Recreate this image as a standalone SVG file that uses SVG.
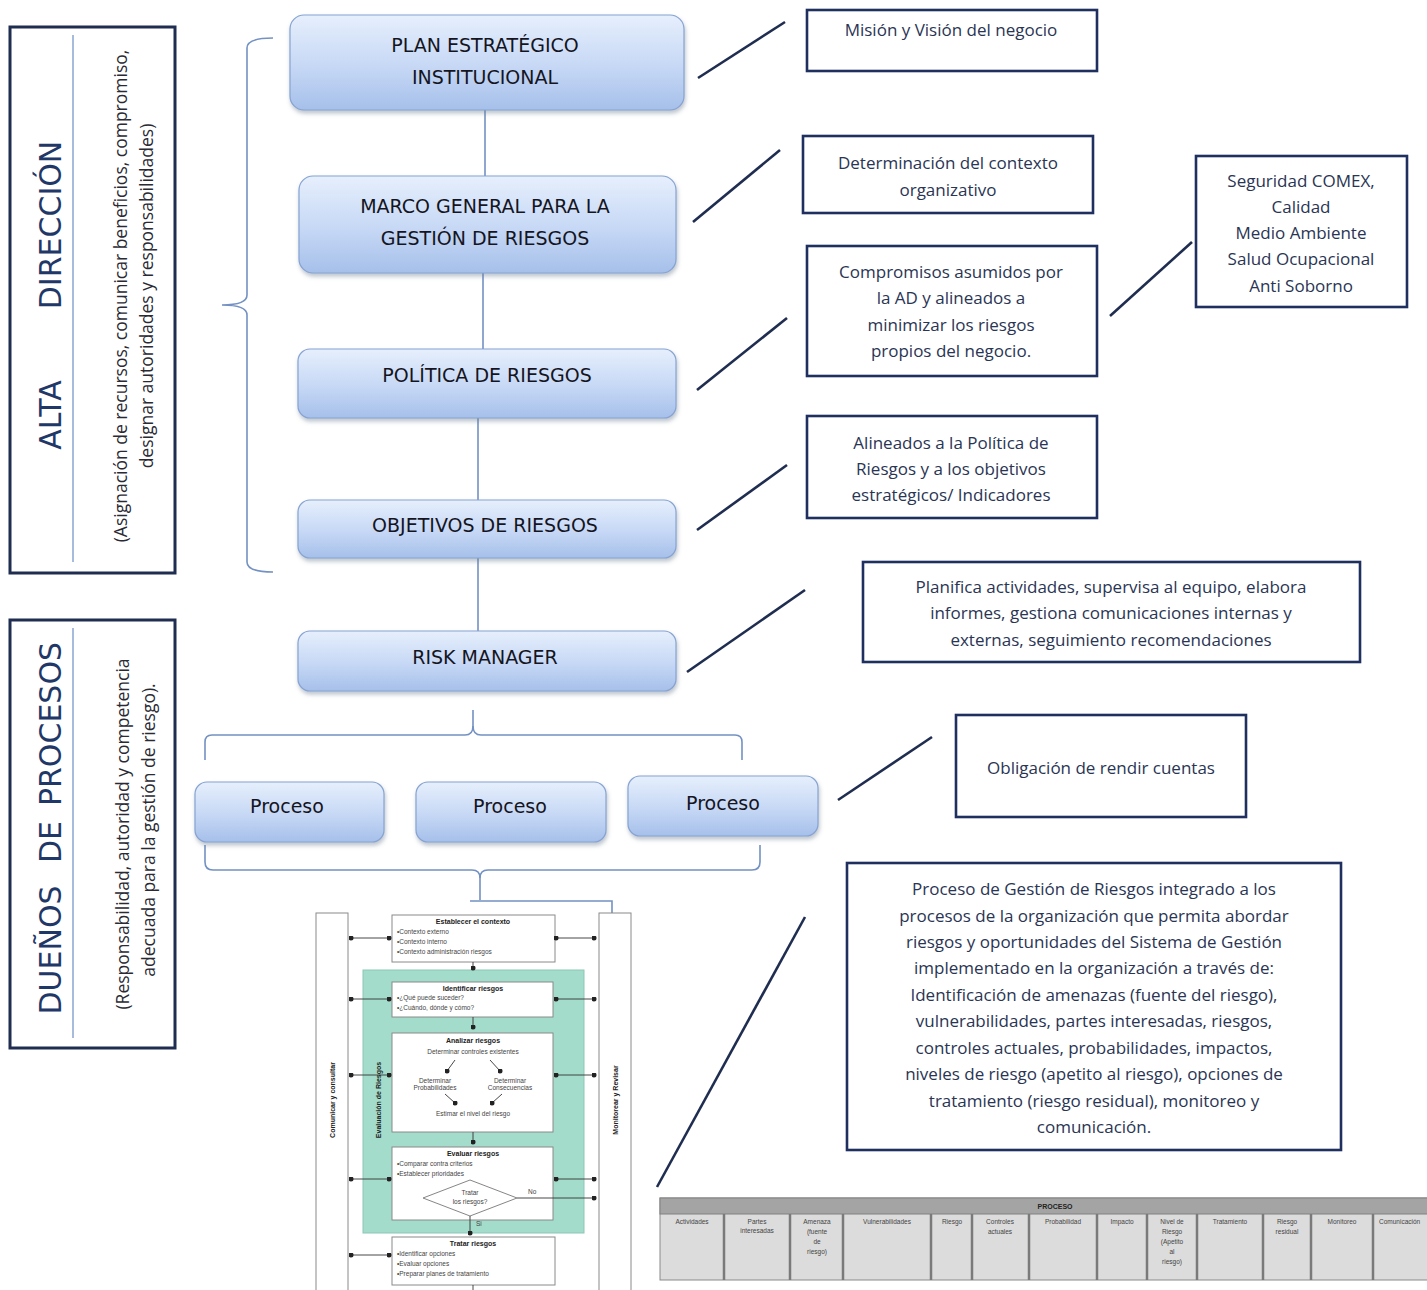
<svg xmlns="http://www.w3.org/2000/svg" width="1427" height="1290" viewBox="0 0 1427 1290">
<defs>
<linearGradient id="ng" x1="0" y1="0" x2="0" y2="1">
<stop offset="0" stop-color="#e6effc"/>
<stop offset="0.5" stop-color="#c9daf6"/>
<stop offset="1" stop-color="#a6c0ea"/>
</linearGradient>
<filter id="sh" x="-10%" y="-10%" width="120%" height="130%">
<feDropShadow dx="1" dy="3" stdDeviation="2" flood-color="#6a7a90" flood-opacity="0.45"/>
</filter>
<marker id="dot" viewBox="0 0 6 6" refX="3" refY="3" markerWidth="5" markerHeight="5" markerUnits="userSpaceOnUse">
<circle cx="3" cy="3" r="3" fill="#222"/>
</marker>
</defs>
<style>
.node rect{fill:url(#ng);stroke:#86a3d2;stroke-width:1.2;filter:url(#sh)}
.nt{font-family:"DejaVu Sans","Liberation Sans",sans-serif;font-size:19px;fill:#15151f;text-anchor:middle}
.tb rect{fill:#fff;stroke:#1f3060;stroke-width:2.6}
.tt{font-family:"Open Sans","Liberation Sans",sans-serif;font-size:17px;fill:#2a3554;text-anchor:middle}
.panel rect{fill:#fff;stroke:#1f2d50;stroke-width:3}
.big{font-family:"DejaVu Sans","Liberation Sans",sans-serif;font-size:30px;fill:#1f3868;text-anchor:middle;dominant-baseline:central}
.sub{font-family:"Open Sans","Liberation Sans",sans-serif;font-size:17.5px;fill:#2a2a35;text-anchor:middle;dominant-baseline:central}
.conn path,.conn line{fill:none;stroke:#7391c2;stroke-width:1.6}
.diag line{stroke:#1f2d50;stroke-width:2.6}
.fb{fill:#fff;stroke:#8a8a8a;stroke-width:1}
.ft{font-family:"Liberation Sans",Arial,sans-serif;font-size:6.5px;fill:#444}
.fh{font-family:"Liberation Sans",Arial,sans-serif;font-size:7px;font-weight:bold;fill:#222;text-anchor:middle}
.fl{stroke:#333;stroke-width:0.9;fill:none}
.tc{font-family:"Liberation Sans",Arial,sans-serif;font-size:6.5px;fill:#444;text-anchor:middle}
.ts{font-family:"Liberation Sans",Arial,sans-serif;font-size:6.5px;fill:#444;text-anchor:start}
</style>

<g id="panel-alta" class="panel">
<rect x="10" y="27" width="165" height="546"/>
<line x1="73" y1="35" x2="73" y2="562" stroke="#8aa6d0" stroke-width="1.5"/>
<text class="big" transform="translate(50,415) rotate(-90)">ALTA</text>
<text class="big" transform="translate(50,225) rotate(-90)">DIRECCIÓN</text>
<text class="sub" transform="translate(120,296) rotate(-90)">(Asignación de recursos, comunicar beneficios, compromiso,</text>
<text class="sub" transform="translate(146,296) rotate(-90)">designar autoridades y responsabilidades)</text>
</g>

<g id="panel-duenos" class="panel">
<rect x="10" y="620" width="165" height="428"/>
<line x1="73" y1="628" x2="73" y2="1038" stroke="#8aa6d0" stroke-width="1.5"/>
<text class="big" transform="translate(50,950) rotate(-90)">DUEÑOS</text>
<text class="big" transform="translate(50,842) rotate(-90)">DE</text>
<text class="big" transform="translate(50,724) rotate(-90)">PROCESOS</text>
<text class="sub" transform="translate(122,834) rotate(-90)">(Responsabilidad, autoridad y competencia</text>
<text class="sub" transform="translate(148,830) rotate(-90)">adecuada para la gestión de riesgo).</text>
</g>

<g id="connectors" class="conn">
<path d="M273,38 Q247,38 247,48 L247,295 Q247,305 222,305 Q247,305 247,315 L247,562 Q247,572 273,572"/>
<line x1="485" y1="110" x2="485" y2="176"/>
<line x1="483" y1="273" x2="483" y2="349"/>
<line x1="478" y1="418" x2="478" y2="500"/>
<line x1="478" y1="558" x2="478" y2="631"/>
<path d="M473,710 L473,726 Q473,735 465,735 L212,735 Q205,735 205,742 L205,760"/>
<path d="M473,726 Q473,735 481,735 L735,735 Q742,735 742,742 L742,760"/>
<path d="M205,845 L205,862 Q205,870 213,870 L472,870 Q480,870 480,878 L480,900"/>
<path d="M480,878 Q480,870 488,870 L752,870 Q760,870 760,862 L760,845"/>
<path d="M470,901 L612,901 L612,913" stroke="#888" stroke-width="1"/>
</g>

<g id="diagonals" class="diag">
<line x1="698" y1="78" x2="785" y2="22"/>
<line x1="693" y1="222" x2="780" y2="150"/>
<line x1="697" y1="390" x2="787" y2="318"/>
<line x1="697" y1="530" x2="787" y2="465"/>
<line x1="687" y1="672" x2="805" y2="590"/>
<line x1="838" y1="800" x2="932" y2="737"/>
<line x1="1110" y1="316" x2="1192" y2="242"/>
<line x1="657" y1="1187" x2="805" y2="917"/>
</g>

<g id="n-plan" class="node"><rect x="290" y="15" width="394" height="95" rx="14"/>
<text class="nt" x="485" y="52">PLAN ESTRATÉGICO</text><text class="nt" x="485" y="84">INSTITUCIONAL</text></g>
<g id="n-marco" class="node"><rect x="299" y="176" width="377" height="97" rx="14"/>
<text class="nt" x="485" y="213">MARCO GENERAL PARA LA</text><text class="nt" x="485" y="245">GESTIÓN DE RIESGOS</text></g>
<g id="n-politica" class="node"><rect x="298" y="349" width="378" height="69" rx="12"/>
<text class="nt" x="487" y="382">POLÍTICA DE RIESGOS</text></g>
<g id="n-objetivos" class="node"><rect x="298" y="500" width="378" height="58" rx="12"/>
<text class="nt" x="485" y="532">OBJETIVOS DE RIESGOS</text></g>
<g id="n-risk" class="node"><rect x="298" y="631" width="378" height="60" rx="12"/>
<text class="nt" x="485" y="664">RISK MANAGER</text></g>
<g id="n-proc1" class="node"><rect x="195" y="782" width="189" height="60" rx="12"/>
<text class="nt" x="287" y="813">Proceso</text></g>
<g id="n-proc2" class="node"><rect x="416" y="782" width="190" height="60" rx="12"/>
<text class="nt" x="510" y="813">Proceso</text></g>
<g id="n-proc3" class="node"><rect x="628" y="776" width="190" height="60" rx="12"/>
<text class="nt" x="723" y="810">Proceso</text></g>

<g id="t-mision" class="tb"><rect x="807" y="10" width="290" height="61"/>
<text class="tt" x="951" y="36">Misión y Visión del negocio</text></g>
<g id="t-determinacion" class="tb"><rect x="803" y="136" width="290" height="77"/>
<text class="tt" x="948" y="169">Determinación del contexto</text><text class="tt" x="948" y="196">organizativo</text></g>
<g id="t-compromisos" class="tb"><rect x="807" y="246" width="290" height="130"/>
<text class="tt" x="951" y="278">Compromisos asumidos por</text><text class="tt" x="951" y="304">la AD y alineados a</text>
<text class="tt" x="951" y="331">minimizar los riesgos</text><text class="tt" x="951" y="357">propios del negocio.</text></g>
<g id="t-seguridad" class="tb"><rect x="1196" y="156" width="211" height="151"/>
<text class="tt" x="1301" y="187">Seguridad COMEX,</text><text class="tt" x="1301" y="213">Calidad</text>
<text class="tt" x="1301" y="239">Medio Ambiente</text><text class="tt" x="1301" y="265">Salud Ocupacional</text>
<text class="tt" x="1301" y="292">Anti Soborno</text></g>
<g id="t-alineados" class="tb"><rect x="807" y="416" width="290" height="102"/>
<text class="tt" x="951" y="449">Alineados a la Política de</text><text class="tt" x="951" y="475">Riesgos y a los objetivos</text>
<text class="tt" x="951" y="501">estratégicos/ Indicadores</text></g>
<g id="t-planifica" class="tb"><rect x="863" y="562" width="497" height="100"/>
<text class="tt" x="1111" y="593">Planifica actividades, supervisa al equipo, elabora</text>
<text class="tt" x="1111" y="619">informes, gestiona comunicaciones internas y</text>
<text class="tt" x="1111" y="646">externas, seguimiento recomendaciones</text></g>
<g id="t-obligacion" class="tb"><rect x="956" y="715" width="290" height="102"/>
<text class="tt" x="1101" y="774">Obligación de rendir cuentas</text></g>
<g id="t-proceso" class="tb"><rect x="847" y="863" width="494" height="287"/>
<text class="tt" x="1094" y="895">Proceso de Gestión de Riesgos integrado a los</text>
<text class="tt" x="1094" y="922">procesos de la organización que permita abordar</text>
<text class="tt" x="1094" y="948">riesgos y oportunidades del Sistema de Gestión</text>
<text class="tt" x="1094" y="974">implementado en la organización a través de:</text>
<text class="tt" x="1094" y="1001">Identificación de amenazas (fuente del riesgo),</text>
<text class="tt" x="1094" y="1027">vulnerabilidades, partes interesadas, riesgos,</text>
<text class="tt" x="1094" y="1054">controles actuales, probabilidades, impactos,</text>
<text class="tt" x="1094" y="1080">niveles de riesgo (apetito al riesgo), opciones de</text>
<text class="tt" x="1094" y="1107">tratamiento (riesgo residual), monitoreo y</text>
<text class="tt" x="1094" y="1133">comunicación.</text></g>

<g id="flowchart">
<rect class="fb" x="316" y="913" width="32" height="380"/>
<rect class="fb" x="599" y="913" width="32" height="380"/>
<text class="fh" transform="translate(335,1100) rotate(-90)" font-size="8">Comunicar y consultar</text>
<text class="fh" transform="translate(618,1100) rotate(-90)" font-size="8">Monitorear y Revisar</text>
<rect x="363" y="970" width="221" height="263" fill="#a3dccb" stroke="#8cc7b6" stroke-width="1"/>
<text class="fh" transform="translate(381,1100) rotate(-90)" font-size="8" fill="#1d5a50">Evaluación de Riesgos</text>
<rect class="fb" x="392" y="915" width="163" height="47"/>
<text class="fh" x="473" y="924">Establecer el contexto</text>
<text class="ft" x="397" y="934">•Contexto externo</text>
<text class="ft" x="397" y="944">•Contexto interno</text>
<text class="ft" x="397" y="954">•Contexto administración riesgos</text>
<rect class="fb" x="392" y="982" width="161" height="35"/>
<text class="fh" x="473" y="991">Identificar riesgos</text>
<text class="ft" x="397" y="1000">•¿Qué puede suceder?</text>
<text class="ft" x="397" y="1010">•¿Cuándo, dónde y cómo?</text>
<rect class="fb" x="392" y="1033" width="161" height="99"/>
<text class="fh" x="473" y="1043">Analizar riesgos</text>
<text class="tc" x="473" y="1054">Determinar controles existentes</text>
<text class="tc" x="435" y="1083" font-size="5.5">Determinar</text>
<text class="tc" x="435" y="1090" font-size="5.5" fill="#a04040">Probabilidades</text>
<text class="tc" x="510" y="1083" font-size="5.5">Determinar</text>
<text class="tc" x="510" y="1090" font-size="5.5">Consecuencias</text>
<text class="tc" x="473" y="1116">Estimar el nivel del riesgo</text>
<rect class="fb" x="392" y="1147" width="161" height="73"/>
<text class="fh" x="473" y="1156">Evaluar riesgos</text>
<text class="ft" x="397" y="1166">•Comparar contra criterios</text>
<text class="ft" x="397" y="1176">•Establecer prioridades</text>
<polygon points="423,1198 470,1180 517,1198 470,1216" fill="#fff" stroke="#777" stroke-width="0.9"/>
<text class="tc" x="470" y="1195">Tratar</text>
<text class="tc" x="470" y="1204">los riesgos?</text>
<text class="ft" x="528" y="1194">No</text>
<text class="ft" x="476" y="1226">Si</text>
<rect class="fb" x="392" y="1237" width="163" height="48"/>
<text class="fh" x="473" y="1246">Tratar riesgos</text>
<text class="ft" x="397" y="1256">•Identificar opciones</text>
<text class="ft" x="397" y="1266">•Evaluar opciones</text>
<text class="ft" x="397" y="1276">•Preparar planes de tratamiento</text>
<g class="fl">
<line x1="351" y1="938" x2="389" y2="938" marker-start="url(#dot)" marker-end="url(#dot)"/>
<line x1="556" y1="938" x2="594" y2="938" marker-start="url(#dot)" marker-end="url(#dot)"/>
<line x1="351" y1="999" x2="389" y2="999" marker-start="url(#dot)" marker-end="url(#dot)"/>
<line x1="556" y1="999" x2="594" y2="999" marker-start="url(#dot)" marker-end="url(#dot)"/>
<line x1="351" y1="1075" x2="389" y2="1075" marker-start="url(#dot)" marker-end="url(#dot)"/>
<line x1="556" y1="1075" x2="594" y2="1075" marker-start="url(#dot)" marker-end="url(#dot)"/>
<line x1="351" y1="1179" x2="389" y2="1179" marker-start="url(#dot)" marker-end="url(#dot)"/>
<line x1="556" y1="1179" x2="594" y2="1179" marker-start="url(#dot)" marker-end="url(#dot)"/>
<line x1="517" y1="1198" x2="594" y2="1198" marker-end="url(#dot)"/>
<line x1="351" y1="1255" x2="389" y2="1255" marker-start="url(#dot)" marker-end="url(#dot)"/>
<line x1="473" y1="962" x2="473" y2="968" marker-end="url(#dot)"/>
<line x1="473" y1="1017" x2="473" y2="1027" marker-end="url(#dot)"/>
<line x1="473" y1="1132" x2="473" y2="1142" marker-end="url(#dot)"/>
<line x1="470" y1="1216" x2="470" y2="1233" marker-end="url(#dot)"/>
<line x1="473" y1="1285" x2="473" y2="1290"/>
<line x1="455" y1="1060" x2="447" y2="1071" marker-end="url(#dot)"/>
<line x1="490" y1="1060" x2="500" y2="1071" marker-end="url(#dot)"/>
<line x1="445" y1="1094" x2="455" y2="1103" marker-end="url(#dot)"/>
<line x1="502" y1="1094" x2="492" y2="1103" marker-end="url(#dot)"/>
</g>
</g>

<g id="table">
<rect x="660" y="1198" width="780" height="82" fill="#dcdcdc" stroke="#8a8a8a" stroke-width="1"/>
<rect x="660" y="1198" width="780" height="16" fill="#a4a4a4" stroke="#808080" stroke-width="1"/>
<text class="fh" x="1055" y="1209" font-size="7.5">PROCESO</text>
<g stroke="#7a7a7a" stroke-width="2.5">
<line x1="724" y1="1214" x2="724" y2="1280"/><line x1="790" y1="1214" x2="790" y2="1280"/>
<line x1="843" y1="1214" x2="843" y2="1280"/><line x1="931" y1="1214" x2="931" y2="1280"/>
<line x1="972" y1="1214" x2="972" y2="1280"/><line x1="1029" y1="1214" x2="1029" y2="1280"/>
<line x1="1097" y1="1214" x2="1097" y2="1280"/><line x1="1147" y1="1214" x2="1147" y2="1280"/>
<line x1="1197" y1="1214" x2="1197" y2="1280"/><line x1="1263" y1="1214" x2="1263" y2="1280"/>
<line x1="1311" y1="1214" x2="1311" y2="1280"/><line x1="1373" y1="1214" x2="1373" y2="1280"/>
</g>
<text class="tc" x="692" y="1224">Actividades</text>
<text class="tc" x="757" y="1224">Partes</text><text class="tc" x="757" y="1233">interesadas</text>
<text class="tc" x="817" y="1224">Amenaza</text><text class="tc" x="817" y="1234">(fuente</text><text class="tc" x="817" y="1244">de</text><text class="tc" x="817" y="1254">riesgo)</text>
<text class="tc" x="887" y="1224">Vulnerabilidades</text>
<text class="tc" x="952" y="1224">Riesgo</text>
<text class="tc" x="1000" y="1224">Controles</text><text class="tc" x="1000" y="1234">actuales</text>
<text class="tc" x="1063" y="1224">Probabilidad</text>
<text class="tc" x="1122" y="1224">Impacto</text>
<text class="tc" x="1172" y="1224">Nivel de</text><text class="tc" x="1172" y="1234">Riesgo</text><text class="tc" x="1172" y="1244">(Apetito</text><text class="tc" x="1172" y="1254">al</text><text class="tc" x="1172" y="1264">riesgo)</text>
<text class="tc" x="1230" y="1224">Tratamiento</text>
<text class="tc" x="1287" y="1224">Riesgo</text><text class="tc" x="1287" y="1234">residual</text>
<text class="tc" x="1342" y="1224">Monitoreo</text>
<text class="ts" x="1379" y="1224">Comunicación</text>
</g>
</svg>
